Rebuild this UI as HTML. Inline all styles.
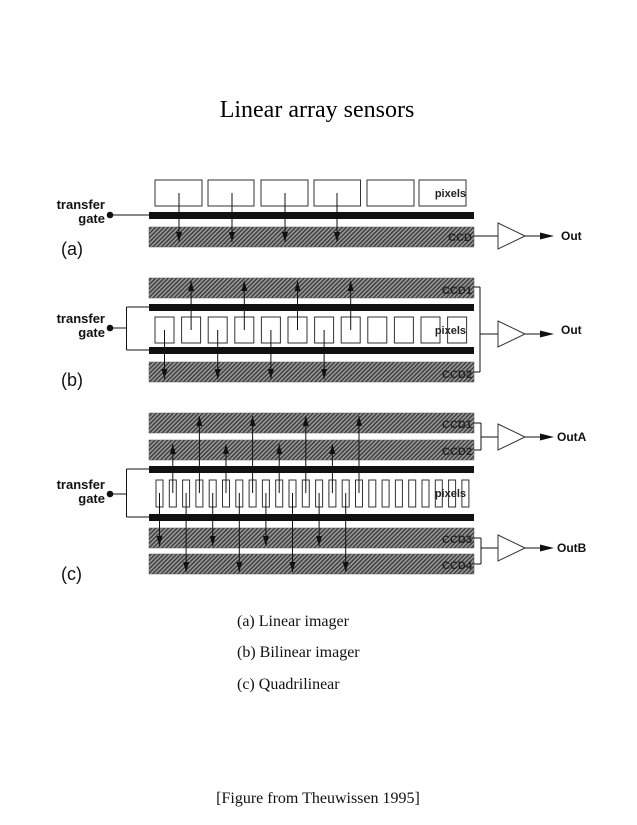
<!DOCTYPE html>
<html><head><meta charset="utf-8"><style>
html,body{margin:0;padding:0;background:#fff;}
svg{display:block;}
.s{font-family:"Liberation Sans",Arial,sans-serif;font-weight:bold;}
.t{font-family:"Liberation Serif","Times New Roman",serif;}
</style></head><body>
<svg id="g" width="637" height="825" viewBox="0 0 637 825" xmlns="http://www.w3.org/2000/svg">
<defs>
<pattern id="h" width="3" height="3" patternUnits="userSpaceOnUse" patternTransform="rotate(45)">
<rect width="3" height="3" fill="#9a9a9a"/><rect width="1.4" height="3" fill="#3a3a3a"/>
</pattern>
<marker id="ar" markerWidth="6" markerHeight="10" refX="3" refY="9" orient="auto" markerUnits="userSpaceOnUse" viewBox="0 0 6 10">
</marker>
</defs>
<text class="t" x="317" y="117" font-size="24" text-anchor="middle">Linear array sensors</text>

<!-- labels -->
<g class="s" font-size="13" text-anchor="end" fill="#111">
<text x="105" y="209">transfer</text><text x="105" y="223">gate</text>
<text x="105" y="323">transfer</text><text x="105" y="337">gate</text>
<text x="105" y="489">transfer</text><text x="105" y="503">gate</text>
</g>
<g class="s" font-size="18" font-weight="normal" fill="#111" style="font-weight:normal">
<text x="61" y="255">(a)</text>
<text x="61" y="386">(b)</text>
<text x="61" y="580">(c)</text>
</g>
<g class="s" font-size="12" fill="#111">
<text x="561" y="240">Out</text>
<text x="561" y="334">Out</text>
<text x="557" y="441">OutA</text>
<text x="557" y="552">OutB</text>
</g>
<g id="dyn"></g>
<g class="s" font-size="11" fill="#222" text-anchor="end">
<text x="466" y="197">pixels</text>
<text x="472" y="241">CCD</text>
<text x="472" y="294">CCD1</text>
<text x="466" y="334">pixels</text>
<text x="472" y="378">CCD2</text>
<text x="472" y="428">CCD1</text>
<text x="472" y="455">CCD2</text>
<text x="466" y="497">pixels</text>
<text x="472" y="543">CCD3</text>
<text x="472" y="569">CCD4</text>
</g>

<g class="t" font-size="16" fill="#111">
<text x="237" y="626">(a) Linear imager</text>
<text x="237" y="657">(b) Bilinear imager</text>
<text x="237" y="689">(c) Quadrilinear</text>
<text x="318" y="803" text-anchor="middle">[Figure from Theuwissen 1995]</text>
</g>
</svg>
<script>
const NS="http://www.w3.org/2000/svg",D=document.getElementById("dyn");
function e(t,a){const n=document.createElementNS(NS,t);for(const k in a)n.setAttribute(k,a[k]);D.appendChild(n);return n;}
function R(x,y,w,h,f,s){e("rect",{x,y,width:w,height:h,fill:f||"#fff",stroke:s||"#333","stroke-width":1});}
function L(x1,y1,x2,y2,w){e("line",{x1,y1,x2,y2,stroke:"#111","stroke-width":w||1});}
function ccd(y,h){e("rect",{x:149,y,width:325,height:h,fill:"url(#h)",stroke:"#555","stroke-width":0.5});}
function bar(y){e("rect",{x:149,y,width:325,height:7,fill:"#111"});}
function arr(x,y1,y2){L(x,y1,x2=x,y2);const d=y2>y1?1:-1;e("polygon",{points:`${x-3},${y2-d*10} ${x+3},${y2-d*10} ${x},${y2}`,fill:"#111"});}
function dot(x,y){e("circle",{cx:x,cy:y,r:3.3,fill:"#111"});}
function amp(x,y,lbl){e("polygon",{points:`${x},${y-13} ${x+27},${y} ${x},${y+13}`,fill:"#fff",stroke:"#333","stroke-width":1});L(x+27,y,x+42,y);e("polygon",{points:`${x+42},${y-3.5} ${x+56},${y} ${x+42},${y+3.5}`,fill:"#111"});}
// (a)
const ax=[[155,47],[208,46],[261,47],[314,46.5],[367,47],[419,47]];
ax.forEach(b=>R(b[0],180,b[1],26));
bar(212);ccd(227,20);
[179,232,285,337].forEach(x=>arr(x,193,242));
L(110,215,149,215);dot(110,215);
L(474,236,498,236);amp(498,236);
// (b)
ccd(278,20);bar(304);bar(347);ccd(362,20);
for(let i=0;i<12;i++)R(155+i*26.6,317,19,26);
for(let i=0;i<4;i++){arr(164.5+(2*i+1)*26.6,330,281);arr(164.5+2*i*26.6,330,379);}
L(126.5,307,149,307);L(126.5,350,149,350);L(126.5,307,126.5,350);L(110,328,126.5,328);dot(110,328);
L(474,287,480,287);L(474,372,480,372);L(480,287,480,372);L(480,334,498,334);amp(498,334);
// (c)
ccd(413,20);ccd(440,20);bar(466);bar(514);ccd(528,20);ccd(554,20);
for(let i=0;i<24;i++)R(156+i*13.3,480,7,27);
for(let k=0;k<4;k++){
 const c=i=>159.5+(i-1)*13.3;
 arr(c(2+4*k),493,444);arr(c(4+4*k),493,416);
 arr(c(1+4*k),493,546);arr(c(3+4*k),493,572);
}
L(126.5,469,149,469);L(126.5,517,149,517);L(126.5,469,126.5,517);L(110,494,126.5,494);dot(110,494);
L(474,423,481,423);L(474,450,481,450);L(481,423,481,450);L(481,437,498,437);amp(498,437);
L(474,538,481,538);L(474,564,481,564);L(481,538,481,564);L(481,548,498,548);amp(498,548);
</script>
</body></html>
